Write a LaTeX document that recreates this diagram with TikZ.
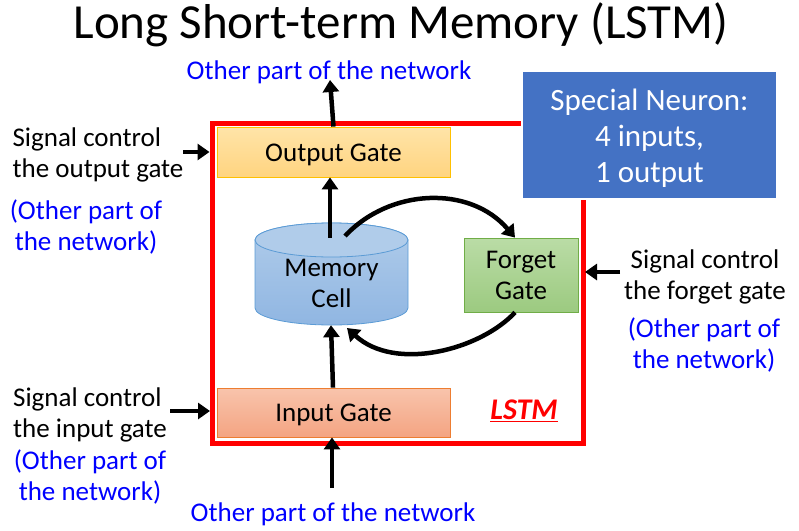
\documentclass[tikz,border=0pt]{standalone}
\usepackage{fontspec}
\setmainfont{Carlito}
\usetikzlibrary{positioning,arrows.meta}
\definecolor{outtop}{RGB}{255,228,168}
\definecolor{outbot}{RGB}{255,212,128}
\definecolor{outline}{RGB}{255,192,0}
\definecolor{intop}{RGB}{248,196,172}
\definecolor{inbot}{RGB}{244,164,130}
\definecolor{inline}{RGB}{237,125,49}
\definecolor{fgtop}{RGB}{186,220,166}
\definecolor{fgbot}{RGB}{156,202,128}
\definecolor{fgline}{RGB}{112,173,71}
\definecolor{celltop}{RGB}{176,204,234}
\definecolor{cellbot}{RGB}{144,182,226}
\definecolor{cellline}{RGB}{91,155,213}
\definecolor{neuron}{RGB}{68,114,196}
% lower a text inside its node, keeping the node's size
\newcommand{\droptext}[2]{\raisebox{-#1}[\height][\depth]{\begin{tabular}{@{}c@{}}#2\end{tabular}}}

\begin{document}
\begin{tikzpicture}[x=1pt, y=-1pt, font=\fontsize{27}{31}\selectfont,
  gate/.style={draw=#1, line width=0.8pt, minimum width=233pt, minimum height=50pt},
  arr/.style={line width=4.5pt, -{Triangle[length=12pt,width=16pt]}},
  note/.style={align=left},
  net/.style={align=center, text=blue}]
\useasboundingbox (0,0) rectangle (799,530);
\node (title) at (401,25) {\fontsize{49}{52}\selectfont Long Short-term Memory (LSTM)};
% the LSTM block
\node[draw=red, line width=5pt, minimum width=371pt, minimum height=320pt] (lstm) at (397.5,283) {};
\node[gate=outline, top color=outtop, bottom color=outbot] (outg) at (333.5,152) {\droptext{3pt}{Output Gate}};
\node[gate=inline, top color=intop, bottom color=inbot, minimum height=49pt] (ing) at (333.5,412.5) {\droptext{3pt}{Input Gate}};
\node[gate=fgline, top color=fgtop, bottom color=fgbot, minimum width=114pt, minimum height=74pt] (fgt) at (521,275) {\droptext{2.5pt}{Forget\\Gate}};
\draw[cellline, line width=0.8pt, top color=celltop, bottom color=cellbot] (255,240) -- (255,308) arc[start angle=180, end angle=0, x radius=76.5, y radius=17] -- (408,240) arc[start angle=0, end angle=-180, x radius=76.5, y radius=17] -- cycle;
\draw[cellline, line width=0.8pt, fill=celltop] (331.5,240) ellipse[x radius=76.5, y radius=17];
\node[minimum width=153pt, minimum height=103pt, align=center] (mem) at (331.5,273.5) {\\[7pt]Memory\\Cell};
\node[fill=neuron, draw=white, line width=2pt, minimum width=255pt, minimum height=128pt, text=white, font=\fontsize{31}{36}\selectfont] (neu) at (649.5,135) {\droptext{4pt}{Special Neuron:\\4 inputs,\\1 output}};
\node[text=red, font=\fontsize{30}{31}\selectfont\bfseries\itshape] (tag) at (524,411) {\underline{LSTM}};
% outside signals
\node[net] (topnet) at (329,72) {Other part of the network};
\node[net] (botnet) at (333,514) {Other part of the network};
\node[note] (sigout) at (98,155) {Signal control\\the output gate};
\node[net] (netout) at (86,227) {(Other part of\\the network)};
\node[note] (sigin) at (90,415) {Signal control\\the input gate};
\node[net, below=0pt of sigin] (netin) {(Other part of\\the network)};
\node[align=center] (sigfgt) at (705,277) {Signal control\\the forget gate};
\node[net] (netfgt) at (704,345) {(Other part of\\the network)};
% connectors
\draw[arr] (outg.north) -- (330,80);
\draw[arr] (332,488) -- ([xshift=-1.5pt]ing.south);
\draw[arr] ([yshift=-16pt,xshift=-1.5pt]mem.north) -- ([xshift=-3.5pt]outg.south);
\draw[arr] ([xshift=-0.5pt]ing.north) -- ([xshift=-0.5pt]mem.south);
\draw[arr] (183,152) -- (lstm.west |- outg);
\draw[arr] (170,411) -- (210,411);
\draw[arr] (620,272) -- (585,272);
\draw[arr] (345,236) .. controls (390,188) and (470,185) .. ([xshift=-6pt]fgt.north);
\draw[arr] ([xshift=-6pt]fgt.south) .. controls (480,350) and (395,372) .. (347,328);
\end{tikzpicture}
\end{document}
